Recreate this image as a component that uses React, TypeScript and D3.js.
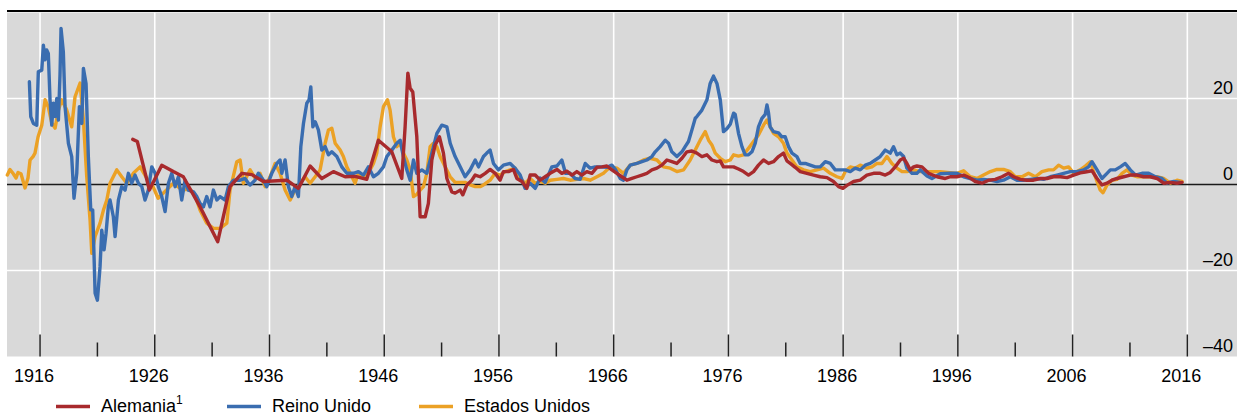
import React from 'react';
import * as d3 from 'd3';

// [year, value] readings per series
const germanyData: [number, number][] = [
  [1924.08, 10.5], [1924.48, 10], [1925.53, -1.3], [1926.61, 4.5], [1927.62, 3], [1928.49, 1.8],
  [1929.95, -5.2], [1931.49, -13.3], [1932.56, -0.5], [1933.59, 2.6], [1934.46, 2.3], [1935.47, 0.7],
  [1937.51, 1], [1938.52, -0.9], [1939.54, 4.3], [1940.56, 1.4], [1941.57, 3], [1942.59, 1.8],
  [1943.46, 1.9], [1944.48, 1.2], [1945.49, 10.3], [1946.66, 7.6], [1947.53, 1.4], [1947.82, 13.4],
  [1948.06, 25.9], [1948.26, 22.4], [1948.49, 21.5], [1948.84, 11.1], [1949.13, -7.5], [1949.57, -7.5],
  [1949.85, -4.4], [1950.15, 5.7], [1950.44, 9.2], [1950.81, 11.1], [1951.16, 7.3], [1951.46, 1.4],
  [1951.89, -1.7], [1952.18, -2], [1952.62, -1.3], [1952.85, -2.4], [1953.2, -0.1], [1953.64, 1],
  [1953.93, 2.2], [1954.36, 1.8], [1954.8, 2.6], [1955.23, 3.5], [1955.67, 2.6], [1956.1, 1],
  [1956.39, 3], [1956.83, 3], [1957.26, 3.5], [1957.56, 1.4], [1958.0, 0.7], [1958.43, -0.9],
  [1958.72, 2.2], [1959.16, 2.2], [1959.59, 1], [1960.03, 1.8], [1960.46, 2.6], [1961.05, 3.5],
  [1961.48, 2.6], [1961.92, 3.1], [1962.36, 2.2], [1962.79, 3], [1963.23, 2.2], [1963.66, 3],
  [1964.1, 2.6], [1964.54, 4], [1964.97, 4.1], [1965.41, 4.3], [1965.84, 3.4], [1966.28, 2.6],
  [1966.71, 1.8], [1967.15, 1], [1967.59, 1.4], [1968.02, 1.8], [1968.46, 2.2], [1968.89, 2.6],
  [1969.33, 3.4], [1969.77, 3.8], [1970.2, 4.5], [1970.64, 5.7], [1971.07, 5.3], [1971.51, 4.9],
  [1971.95, 6.1], [1972.38, 7.6], [1972.82, 7.8], [1973.25, 7.3], [1973.69, 6.5], [1974.13, 6.9],
  [1974.56, 5.7], [1975.0, 5.3], [1975.29, 5.5], [1975.57, 4.1], [1975.98, 4.1], [1976.45, 4.1],
  [1976.88, 3.6], [1977.32, 3], [1977.75, 2.2], [1978.19, 3], [1978.62, 4.5], [1979.06, 5.7],
  [1979.5, 4.9], [1979.93, 5.3], [1980.37, 6.5], [1980.8, 7.3], [1981.1, 5.5], [1981.39, 4.9],
  [1981.82, 4], [1982.26, 3], [1982.84, 2.6], [1983.42, 2.2], [1984.0, 1.8], [1984.59, 1.6],
  [1985.16, 0.7], [1985.6, -0.5], [1985.98, -0.9], [1986.33, -0.2], [1986.91, 0.7], [1987.49, 1],
  [1988.07, 2.2], [1988.65, 2.6], [1989.23, 2.6], [1989.67, 2.2], [1990.11, 2.8], [1990.54, 4.1],
  [1990.98, 5.7], [1991.27, 6.1], [1991.56, 4.9], [1991.85, 3.4], [1992.14, 4.1], [1992.43, 4.3],
  [1992.87, 4.1], [1993.45, 2.6], [1994.18, 1.8], [1994.9, 1.4], [1995.34, 1.8], [1995.92, 1.8],
  [1996.5, 2.2], [1997.08, 1.5], [1997.52, 0.7], [1998.1, 0.3], [1998.68, 1], [1999.26, 1.2],
  [1999.84, 1.8], [2000.42, 2.6], [2000.86, 1.8], [2001.44, 1.2], [2002.02, 1], [2002.59, 1],
  [2003.18, 1.4], [2003.76, 1.4], [2004.34, 1.8], [2004.93, 1.8], [2005.51, 1.6], [2006.09, 2.2],
  [2006.67, 2.7], [2007.11, 2.9], [2007.69, 3.2], [2008.13, 1.4], [2008.56, -0.1], [2009.0, 0.3],
  [2009.43, 1], [2009.87, 1.4], [2010.45, 1.8], [2011.03, 2.2], [2011.61, 2.2], [2012.19, 1.8],
  [2012.77, 1.8], [2013.36, 1.4], [2013.93, 0.3], [2014.52, 0.5], [2015.1, 0.3], [2015.54, 0.5],
];

const ukData: [number, number][] = [
  [1915.07, 23.9], [1915.19, 15.8], [1915.42, 14.2], [1915.71, 13.8], [1915.85, 26.2], [1916.15, 26.6],
  [1916.29, 32.4], [1916.44, 29], [1916.58, 31.3], [1916.72, 30.5], [1916.87, 19.7], [1917.02, 13.8],
  [1917.16, 18.9], [1917.31, 15.8], [1917.46, 20], [1917.6, 15], [1917.74, 25.5], [1917.83, 36.3],
  [1918.03, 30.9], [1918.18, 18.1], [1918.47, 9.6], [1918.76, 6.5], [1918.96, -3.2], [1919.2, 2.6],
  [1919.43, 18.1], [1919.64, 14.2], [1919.78, 27], [1920.01, 23.5], [1920.21, 6.5], [1920.42, -5.9],
  [1920.59, -5.9], [1920.8, -25.3], [1921.0, -26.9], [1921.23, -19.1], [1921.38, -10.6], [1921.58, -15.2],
  [1921.75, -11.4], [1921.95, -5.2], [1922.1, -3.6], [1922.39, -7.5], [1922.54, -12.1], [1922.83, -3.6],
  [1923.12, -0.5], [1923.41, -1.3], [1923.7, 2.6], [1923.99, 0.3], [1924.28, 2.2], [1924.57, 0.3],
  [1924.87, -0.5], [1925.15, -3.6], [1925.44, -1.3], [1925.74, 4.1], [1926.03, 2.6], [1926.31, -0.5],
  [1926.61, -2.8], [1926.9, -6.3], [1927.19, 0.3], [1927.48, 2.6], [1927.77, -0.5], [1928.06, 1.8],
  [1928.35, -3.6], [1928.64, 1], [1928.93, -1.3], [1929.37, -1.7], [1929.66, -2.8], [1929.95, -4.4],
  [1930.24, -5.2], [1930.53, -2.8], [1930.82, -5.2], [1931.11, -1.3], [1931.41, -3.6], [1931.69, -2.8],
  [1932.13, -3.6], [1932.42, -0.5], [1932.85, 1], [1933.44, 1], [1933.87, 1.4], [1934.16, 0.3],
  [1934.31, -0.1], [1934.74, 1], [1935.03, 2.6], [1935.47, 1], [1935.76, -0.5], [1936.2, 2.6],
  [1936.64, 4.9], [1936.92, 5.7], [1937.07, 2.6], [1937.36, 5.7], [1937.65, -0.5], [1937.94, -2.8],
  [1938.23, -0.5], [1938.52, -2.8], [1938.73, 8.8], [1938.96, 14.2], [1939.25, 18.9], [1939.45, 19.7],
  [1939.6, 22.7], [1939.78, 13.4], [1939.98, 14.6], [1940.26, 12.7], [1940.56, 8], [1940.85, 8.8],
  [1941.14, 6.9], [1941.43, 7.6], [1941.87, 6.5], [1942.3, 4.1], [1942.74, 2.6], [1943.32, 2.6],
  [1943.75, 3], [1944.19, 2.2], [1944.62, 4.1], [1945.06, 1.8], [1945.49, 2.6], [1945.93, 4.1],
  [1946.23, 6.5], [1946.66, 8], [1947.1, 9.6], [1947.39, 10.3], [1947.67, 6.5], [1947.97, 3.4],
  [1948.26, 1], [1948.55, 5.7], [1948.84, 2.6], [1949.28, 3.4], [1949.71, 2.6], [1950.15, 7.3],
  [1950.59, 11.9], [1951.02, 13.8], [1951.46, 13.4], [1951.75, 9.6], [1952.18, 6.5], [1952.62, 4.1],
  [1953.05, 1.8], [1953.49, 3.4], [1953.93, 5.7], [1954.22, 4.1], [1954.65, 6.5], [1954.94, 7.3],
  [1955.23, 8], [1955.52, 4.9], [1955.96, 3.4], [1956.39, 4.5], [1956.98, 4.9], [1957.41, 3.8],
  [1957.85, 2.2], [1958.28, -0.9], [1958.72, 0.3], [1959.16, -0.9], [1959.59, 1.5], [1960.03, 0.5],
  [1960.61, 4.1], [1961.05, 4.3], [1961.48, 5.7], [1961.8, 2.6], [1962.21, 2.6], [1962.64, 1.4],
  [1963.08, 1.2], [1963.52, 4.9], [1963.95, 3.8], [1964.39, 4.1], [1964.82, 4.1], [1965.41, 4],
  [1965.84, 4.5], [1966.13, 3.6], [1966.57, 1.4], [1966.85, 1], [1967.15, 3.4], [1967.44, 4.5],
  [1968.02, 4.9], [1968.46, 5.3], [1968.89, 5.7], [1969.33, 6.5], [1969.62, 7.6], [1970.05, 8.8],
  [1970.49, 10.3], [1970.78, 9.6], [1971.07, 7.6], [1971.51, 6.5], [1971.95, 7.6], [1972.23, 8.8],
  [1972.52, 10], [1972.82, 12.7], [1973.11, 15.4], [1973.25, 15.8], [1973.69, 17.3], [1974.13, 19.7],
  [1974.41, 23.5], [1974.7, 25.2], [1975.0, 23.5], [1975.29, 19.7], [1975.57, 12.3], [1975.87, 13],
  [1976.16, 14], [1976.45, 16.6], [1976.59, 16.3], [1976.88, 11.9], [1977.18, 8.8], [1977.46, 6.9],
  [1977.75, 6.9], [1978.05, 7.6], [1978.34, 9.6], [1978.62, 13.4], [1978.92, 15.4], [1979.21, 16.3],
  [1979.36, 18.5], [1979.5, 16.6], [1979.64, 13.4], [1979.93, 12.3], [1980.37, 12], [1980.66, 11.1],
  [1980.95, 11.1], [1981.24, 8.8], [1981.54, 7.3], [1981.97, 6.5], [1982.26, 4.9], [1982.7, 4.9],
  [1983.13, 4.5], [1983.57, 4.1], [1984.0, 4.1], [1984.44, 5.3], [1984.88, 4.9], [1985.31, 3.4],
  [1985.75, 3.4], [1986.18, 3.4], [1986.62, 3], [1987.05, 3.8], [1987.49, 3.4], [1987.93, 4.5],
  [1988.36, 4.9], [1988.8, 5.7], [1989.23, 6.5], [1989.67, 8], [1990.11, 7.3], [1990.39, 8.8],
  [1990.69, 6.9], [1990.98, 7.3], [1991.27, 6.5], [1991.56, 3.8], [1992.0, 2.6], [1992.43, 2.6],
  [1992.72, 3.4], [1993.31, 2], [1993.74, 1.4], [1994.47, 2.5], [1995.34, 2.6], [1995.92, 2.6],
  [1996.5, 1.8], [1997.08, 1.4], [1997.67, 1], [1998.24, 1.2], [1998.83, 1], [1999.41, 0.7],
  [1999.98, 1], [2000.57, 1.8], [2001.15, 1], [2001.73, 1], [2002.32, 1.2], [2002.9, 1.4],
  [2003.47, 1.2], [2004.06, 1.8], [2004.64, 2.2], [2005.22, 2.6], [2005.8, 3], [2006.38, 3],
  [2006.96, 3.4], [2007.39, 4.1], [2007.69, 5.3], [2008.13, 3.4], [2008.56, 1.4], [2009.0, 2.6],
  [2009.29, 3.4], [2009.72, 3.4], [2010.16, 4.1], [2010.59, 4.9], [2011.03, 3.4], [2011.47, 2.2],
  [2012.05, 2.6], [2012.63, 2.6], [2013.21, 1.8], [2013.79, 1.4], [2014.23, 0.3], [2014.81, 0.7],
  [2015.39, 0.5],
];

const usData: [number, number][] = [
  [1913.15, 2.2], [1913.38, 3.5], [1913.67, 2.5], [1913.91, 1.5], [1914.08, 2.8], [1914.34, 2.5],
  [1914.69, -0.8], [1914.95, 1.5], [1915.13, 5.7], [1915.39, 6.5], [1915.56, 7.3], [1915.83, 11.1],
  [1916.15, 13.8], [1916.44, 19.7], [1916.72, 18], [1917.02, 14.3], [1917.31, 13.1], [1917.6, 17.3],
  [1917.89, 19.7], [1918.33, 17.3], [1918.76, 13.4], [1919.05, 20.4], [1919.49, 23.6], [1919.78, 15],
  [1920.07, 1.8], [1920.36, -8.3], [1920.51, -16], [1920.8, -12.1], [1921.23, -9], [1921.52, -6],
  [1921.82, -3.6], [1922.1, 0.3], [1922.69, 3.4], [1923.12, 1.8], [1923.56, 0.3], [1924.13, 2.6],
  [1924.72, 4.1], [1925.3, 1.5], [1925.85, -0.5], [1926.29, -3.2], [1927.05, -1.2], [1927.62, 0.3],
  [1928.35, -1.2], [1929.08, -1.2], [1929.51, -2.5], [1929.95, -6], [1930.53, -9], [1931.11, -10.2],
  [1931.69, -10.2], [1932.28, -9], [1932.56, -1.3], [1933.15, 5.3], [1933.44, 5.7], [1933.72, 0.3],
  [1934.31, 3.4], [1934.74, 1.5], [1935.18, 2.6], [1935.62, -0.5], [1936.05, 1.8], [1936.49, 4.9],
  [1936.92, 2.6], [1937.36, -1.3], [1937.8, -3.6], [1938.23, -1.3], [1938.67, 0.3], [1939.1, 1.8],
  [1939.54, 0.3], [1939.98, 1.8], [1940.41, 3.4], [1940.85, 9.6], [1941.14, 12.7], [1941.43, 13.1],
  [1941.72, 9.6], [1942.16, 8], [1942.44, 6.5], [1942.74, 4.1], [1943.18, 1.8], [1943.46, 0.3],
  [1943.75, 2.6], [1944.19, 1.8], [1944.48, 2.6], [1944.77, 3.4], [1945.06, 4.9], [1945.35, 7.3],
  [1945.64, 13.4], [1945.93, 18.1], [1946.28, 19.7], [1946.51, 17.3], [1946.8, 11.1], [1947.1, 8.8],
  [1947.39, 9.6], [1947.67, 7.3], [1947.97, 5.7], [1948.26, 3.4], [1948.55, -2.8], [1948.84, -2.3],
  [1949.13, -1.3], [1949.42, -0.5], [1949.71, 2.6], [1950.0, 8.8], [1950.29, 9.6], [1950.59, 8.8],
  [1950.87, 6.5], [1951.31, 4.1], [1951.75, 1.8], [1952.18, 0.5], [1952.62, 0.5], [1953.05, 0.5],
  [1953.49, -0.1], [1953.93, -0.5], [1954.36, -0.5], [1954.65, -0.1], [1955.23, 1], [1955.67, 2.6],
  [1956.1, 2.2], [1956.54, 3], [1956.98, 3.4], [1957.41, 3.8], [1957.85, 1.4], [1958.28, 0.3],
  [1958.72, 1.4], [1959.16, 0.3], [1959.59, 0.7], [1960.03, 0.3], [1960.46, 1], [1961.05, 1.2],
  [1961.62, 1.4], [1962.21, 1], [1962.79, 1.2], [1963.37, 1.4], [1963.95, 1], [1964.54, 1.8],
  [1965.11, 2.6], [1965.7, 4.1], [1966.28, 3.8], [1966.85, 2.6], [1967.44, 4.5], [1968.02, 4.9],
  [1968.6, 5.7], [1969.18, 6.1], [1969.77, 5.7], [1970.34, 4.1], [1970.93, 3.8], [1971.51, 3],
  [1972.09, 3.4], [1972.67, 5.7], [1973.11, 8], [1973.54, 10.3], [1973.98, 12.3], [1974.27, 10.3],
  [1974.56, 9.2], [1974.85, 7.3], [1975.29, 6.1], [1975.72, 5.3], [1976.16, 5.7], [1976.45, 6.9],
  [1976.88, 6.6], [1977.32, 6.9], [1977.75, 8.4], [1978.19, 10], [1978.62, 11.5], [1979.06, 13.8],
  [1979.36, 15], [1979.64, 13.4], [1979.93, 11.9], [1980.37, 11.1], [1980.8, 9.6], [1981.1, 7.3],
  [1981.54, 5.7], [1981.97, 4.1], [1982.55, 3.4], [1983.13, 3], [1983.72, 3.4], [1984.29, 3.8],
  [1984.88, 2.6], [1985.46, 1.8], [1985.9, 1.4], [1986.18, 3], [1986.62, 4.1], [1987.05, 3.8],
  [1987.49, 4.5], [1988.07, 3.8], [1988.51, 4.1], [1988.95, 4.9], [1989.38, 4.9], [1989.82, 6.5],
  [1990.25, 4.9], [1990.69, 3.8], [1991.13, 3], [1991.56, 3], [1992.14, 3.4], [1992.72, 3],
  [1993.31, 3], [1994.47, 3], [1995.92, 2.6], [1996.5, 3.2], [1997.08, 1.8], [1997.67, 1.4],
  [1998.24, 2.2], [1998.83, 3], [1999.41, 3.5], [1999.98, 3.5], [2000.57, 3], [2001.0, 1.8],
  [2001.59, 1.8], [2002.16, 2.6], [2002.75, 1.8], [2003.33, 3], [2003.91, 3.4], [2004.34, 3.4],
  [2004.78, 4.5], [2005.22, 3.8], [2005.65, 4.1], [2006.09, 2.6], [2006.67, 3.4], [2007.11, 4.3],
  [2007.54, 5.3], [2007.98, 1.8], [2008.41, -1.3], [2008.65, -1.9], [2009.0, -0.1], [2009.43, 1],
  [2009.87, 1.2], [2010.31, 2.6], [2010.74, 3.4], [2011.18, 2.2], [2011.61, 1.8], [2012.19, 1.8],
  [2012.77, 1.8], [2013.36, 1.8], [2013.93, 1.4], [2014.52, 0.3], [2015.1, 1], [2015.54, 0.7],
];

const yTicks = [20, 0, -20, -40];
const labelYears = d3.range(1916, 2017, 10);
const minorYears = d3.range(1921, 2017, 10);

const series = [
  { name: 'Estados Unidos', data: usData, color: '#eba125' },
  { name: 'Reino Unido', data: ukData, color: '#3a6db0' },
  { name: 'Alemania', data: germanyData, color: '#a82a2d' },
];

const legendItems = [
  { name: 'Alemania', sup: '1', color: '#a82a2d', x: 56 },
  { name: 'Reino Unido', sup: '', color: '#3a6db0', x: 227 },
  { name: 'Estados Unidos', sup: '', color: '#eba125', x: 419 },
];

const W = 1243;
const H = 415;
const left = 7;
const right = 1237;
const top = 12.5;
const bottom = 356.5;

export default function App() {
  const x = d3.scaleLinear().domain([1913.12, 2020.33]).range([left, right]);
  const y = d3.scaleLinear().domain([-40, 40]).range([bottom, top]);

  const line = d3
    .line<[number, number]>()
    .x((d) => x(d[0]))
    .y((d) => y(d[1]));

  const font = 'Liberation Sans, Arial, sans-serif';

  return (
    <svg
      width={W}
      height={H}
      style={{ position: 'absolute', left: 0, top: 0, background: '#fff' }}
      fontFamily={font}
    >
      <rect x={left} y={top} width={right - left} height={bottom - top} fill="#d9d9d9" />

      {/* gridlines */}
      {labelYears.map((yr) => (
        <line key={'v' + yr} x1={x(yr)} x2={x(yr)} y1={top} y2={bottom} stroke="#fff" strokeWidth={1.6} />
      ))}
      {yTicks
        .filter((t) => t !== 0 && t !== -40)
        .map((t) => (
          <line key={'h' + t} x1={left} x2={right} y1={y(t)} y2={y(t)} stroke="#fff" strokeWidth={1.6} />
        ))}

      {/* top rule and zero line */}
      <line x1={left} x2={right} y1={11} y2={11} stroke="#000" strokeWidth={2.2} />
      <line x1={left} x2={right} y1={y(0)} y2={y(0)} stroke="#1a1a1a" strokeWidth={1.4} />

      {/* bottom ticks */}
      {labelYears.map((yr) => (
        <line key={'t' + yr} x1={x(yr)} x2={x(yr)} y1={bottom - 22} y2={bottom} stroke="#222" strokeWidth={1.5} />
      ))}
      {minorYears.map((yr) => (
        <line key={'m' + yr} x1={x(yr)} x2={x(yr)} y1={bottom - 14} y2={bottom} stroke="#222" strokeWidth={1.5} />
      ))}

      {/* series */}
      {series.map((s) => (
        <path
          key={s.name}
          d={line(s.data) ?? ''}
          fill="none"
          stroke={s.color}
          strokeWidth={3.4}
          strokeLinejoin="round"
          strokeLinecap="round"
        />
      ))}

      {/* right axis labels */}
      {yTicks.map((t) => (
        <text key={'yl' + t} x={1233} y={y(t) - 5} textAnchor="end" fontSize={18} fill="#000">
          {t < 0 ? '\u2013' + Math.abs(t) : String(t)}
        </text>
      ))}

      {/* x labels */}
      {labelYears.map((yr) => (
        <text key={'xl' + yr} x={x(yr) - 6} y={382} textAnchor="middle" fontSize={18} fill="#000">
          {yr}
        </text>
      ))}

      {/* legend */}
      {legendItems.map((it) => (
        <g key={it.name}>
          <line x1={it.x} x2={it.x + 34} y1={406.5} y2={406.5} stroke={it.color} strokeWidth={3.5} />
          <text x={it.x + 45} y={412} fontSize={18} fill="#000">
            {it.name}
            {it.sup && (
              <tspan fontSize={12} dy={-8}>
                {it.sup}
              </tspan>
            )}
          </text>
        </g>
      ))}
    </svg>
  );
}
